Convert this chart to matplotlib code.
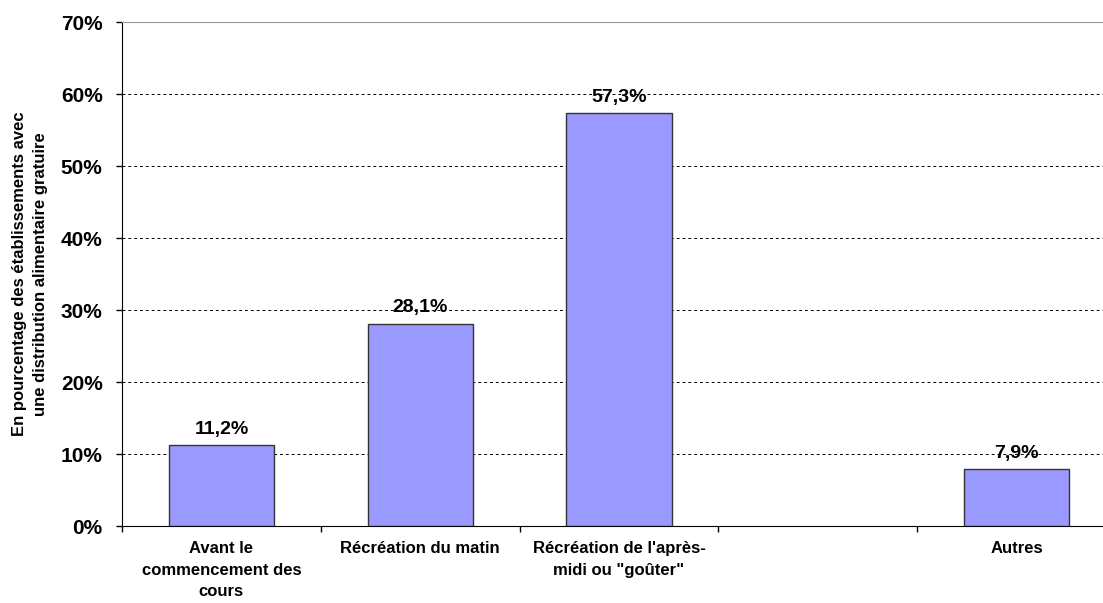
import matplotlib.pyplot as plt
import numpy as np

# données
categories = ["Avant le\ncommencement des\ncours", "Récréation du matin",
              "Récréation de l'après-\nmidi ou \"goûter\"", "", "Autres"]
values = [11.2, 28.1, 57.3, None, 7.9]
yticks = [0, 10, 20, 30, 40, 50, 60, 70]
ylabel = "En pourcentage des établissements avec\nune distribution alimentaire gratuire"

plt.rcParams['font.family'] = ['Liberation Sans', 'DejaVu Sans']

fig = plt.figure(figsize=(11.03, 6.03), dpi=100)
ax = fig.add_axes([122 / 1103, 77 / 603, 994 / 1103, 504 / 603])

x = np.arange(len(categories))
for xi, v in zip(x, values):
    if v is None:
        continue
    ax.bar(xi, v, width=0.53, color='#9999FF', edgecolor='#333333', linewidth=1, zorder=3)
    ax.text(xi, v + 1.6, f"{v:.1f}".replace('.', ',') + "%", ha='center', va='baseline',
            fontsize=14, fontweight='bold', zorder=4)

ax.set_xlim(-0.5, len(categories) - 0.5)
ax.set_ylim(0, 70)
ax.set_yticks(yticks)
ax.set_yticklabels([f"{t}%" for t in yticks], fontsize=15, fontweight='bold')
for t in yticks[1:-1]:
    ax.axhline(t, color='black', linestyle=(0, (3, 3)), linewidth=0.7, zorder=1)

ax.set_xticks(x)
ax.set_xticklabels(categories, fontsize=12, fontweight='bold', linespacing=1.55, va='top')
ax.tick_params(axis='x', which='major', length=0, pad=11)
ax.set_xticks(np.arange(-0.5, len(categories) + 0.5, 1), minor=True)
ax.tick_params(axis='x', which='minor', length=4, width=1, direction='out')
ax.tick_params(axis='y', length=4, width=1, direction='out', pad=10)

ax.spines['top'].set_color('#999999')
ax.spines['right'].set_visible(False)
ax.spines['left'].set_color('black')
ax.spines['bottom'].set_color('black')

fig.text(30 / 1103, (603 - 274) / 603, ylabel, rotation=90, ha='center', va='center',
         fontsize=12, fontweight='bold', linespacing=1.5, multialignment='center')

fig.savefig("out.png", dpi=100)
